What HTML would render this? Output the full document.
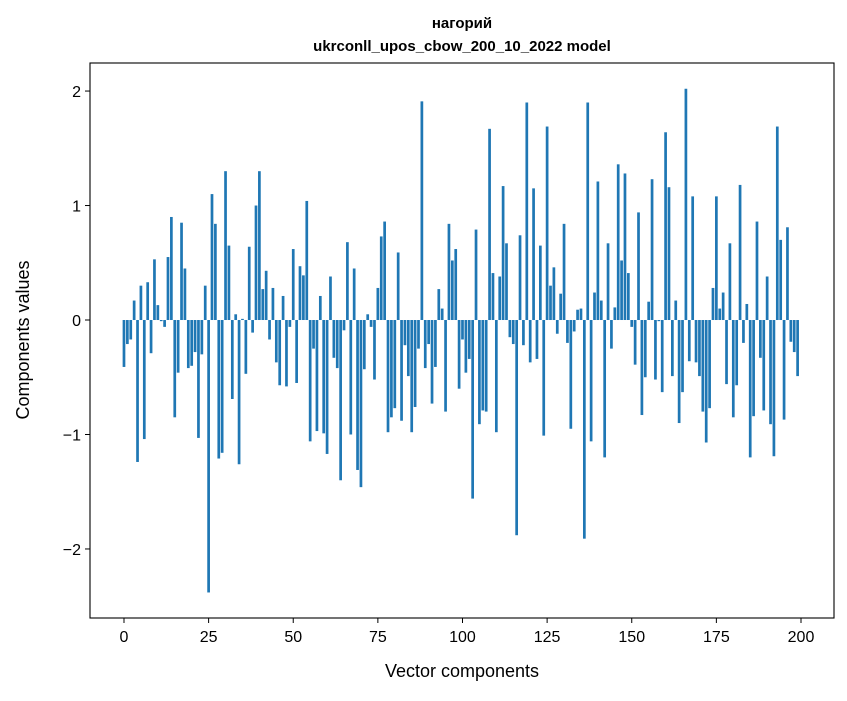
<!DOCTYPE html>
<html><head><meta charset="utf-8"><style>
body{margin:0;background:#fff}
svg text{font-family:"Liberation Sans","DejaVu Sans",sans-serif;fill:#000}
</style></head><body>
<svg id="chart" width="847" height="696" viewBox="0 0 847 696" xmlns="http://www.w3.org/2000/svg">
<rect width="847" height="696" fill="#fff"/>
<text x="462" y="28" text-anchor="middle" font-size="15" font-weight="bold">нагорий</text>
<text x="462" y="51" text-anchor="middle" font-size="15" font-weight="bold">ukrconll_upos_cbow_200_10_2022 model</text>
<g id="bars"></g>
<g id="axes"></g>
<rect x="90" y="63" width="744" height="555" fill="none" stroke="#000" stroke-width="1.1"/>
<text x="462" y="677" text-anchor="middle" font-size="18">Vector components</text>
<text transform="translate(29,340) rotate(-90)" text-anchor="middle" font-size="18">Components values</text>
</svg>
<script>
const values = [-0.41,-0.21,-0.17,0.17,-1.24,0.3,-1.04,0.33,-0.29,0.53,0.13,-0.01,-0.06,0.55,0.9,-0.85,-0.46,0.85,0.45,-0.42,-0.4,-0.28,-1.03,-0.3,0.3,-2.38,1.1,0.84,-1.21,-1.16,1.3,0.65,-0.69,0.05,-1.26,0.01,-0.47,0.64,-0.11,1.0,1.3,0.27,0.43,-0.17,0.28,-0.37,-0.57,0.21,-0.58,-0.06,0.62,-0.55,0.47,0.39,1.04,-1.06,-0.25,-0.97,0.21,-0.99,-1.17,0.38,-0.33,-0.42,-1.4,-0.09,0.68,-1.0,0.45,-1.31,-1.46,-0.43,0.05,-0.06,-0.52,0.28,0.73,0.86,-0.98,-0.85,-0.77,0.59,-0.88,-0.22,-0.49,-0.98,-0.76,-0.25,1.91,-0.42,-0.21,-0.73,-0.41,0.27,0.1,-0.8,0.84,0.52,0.62,-0.6,-0.17,-0.46,-0.34,-1.56,0.79,-0.91,-0.79,-0.8,1.67,0.41,-0.98,0.38,1.17,0.67,-0.15,-0.21,-1.88,0.74,-0.22,1.9,-0.37,1.15,-0.34,0.65,-1.01,1.69,0.3,0.46,-0.12,0.23,0.84,-0.2,-0.95,-0.1,0.09,0.1,-1.91,1.9,-1.06,0.24,1.21,0.17,-1.2,0.67,-0.25,0.11,1.36,0.52,1.28,0.41,-0.06,-0.39,0.94,-0.83,-0.5,0.16,1.23,-0.52,-0.01,-0.63,1.64,1.16,-0.49,0.17,-0.9,-0.63,2.02,-0.36,1.08,-0.37,-0.49,-0.8,-1.07,-0.77,0.28,1.08,0.1,0.24,-0.56,0.67,-0.85,-0.57,1.18,-0.2,0.14,-1.2,-0.84,0.86,-0.33,-0.79,0.38,-0.91,-1.19,1.69,0.7,-0.87,0.81,-0.19,-0.28,-0.49];
const xTicks = [0,25,50,75,100,125,150,175,200];
const yTicks = [-2,-1,0,1,2];
const NS='http://www.w3.org/2000/svg';
const X0=90,X1=834,Y0=63,Y1=618;
const xMin=-10.04,xMax=209.75,yMin=-2.603,yMax=2.245;
const xs=v=>X0+(v-xMin)/(xMax-xMin)*(X1-X0);
const ys=v=>Y1-(v-yMin)/(yMax-yMin)*(Y1-Y0);
const bars=document.getElementById('bars');
values.forEach((v,i)=>{
  const r=document.createElementNS(NS,'rect');
  
  
  const xa=xs(i-0.4), xb=xs(i+0.4);
  r.setAttribute('x',xa);r.setAttribute('width',xb-xa);
  r.setAttribute('y',Math.min(ys(v),ys(0)));
  r.setAttribute('height',Math.abs(ys(v)-ys(0)));
  r.setAttribute('fill','#1f77b4');
  bars.appendChild(r);
});
const axes=document.getElementById('axes');
xTicks.forEach(t=>{
  const l=document.createElementNS(NS,'line');
  
  
  l.setAttribute('x1',xs(t));l.setAttribute('x2',xs(t));l.setAttribute('y1',Y1);l.setAttribute('y2',Y1+5);
  l.setAttribute('stroke','#000');
  axes.appendChild(l);
  const tx=document.createElementNS(NS,'text');
  
  
  tx.setAttribute('x',xs(t));tx.setAttribute('y',Y1+24);tx.setAttribute('text-anchor','middle');tx.setAttribute('font-size','16');
  tx.textContent=String(t);
  axes.appendChild(tx);
});
yTicks.forEach(t=>{
  const l=document.createElementNS(NS,'line');
  
  
  l.setAttribute('x1',X0-5);l.setAttribute('x2',X0);l.setAttribute('y1',ys(t));l.setAttribute('y2',ys(t));
  l.setAttribute('stroke','#000');
  axes.appendChild(l);
  const tx=document.createElementNS(NS,'text');
  
  
  tx.setAttribute('x',X0-9);tx.setAttribute('y',ys(t)+6);tx.setAttribute('text-anchor','end');tx.setAttribute('font-size','16');
  tx.textContent=t<0?'\u2212'+Math.abs(t):String(t);
  axes.appendChild(tx);
});
</script>
</body></html>
